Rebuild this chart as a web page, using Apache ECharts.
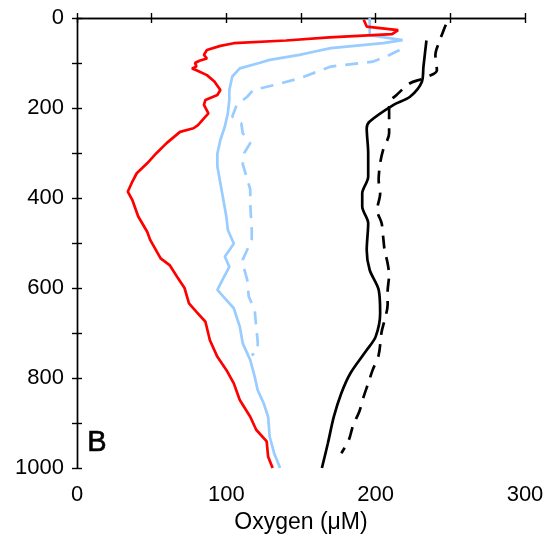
<!DOCTYPE html>
<html lang="en">
<head>
  <meta charset="UTF-8">
  <script src="https://cdn.jsdelivr.net/npm/echarts@6/dist/echarts.min.js"></script>
  <title>Oxygen profile</title>
  <style>
    html, body { margin: 0; padding: 0; background: #fff; }
    #main { width: 556px; height: 545px; }
  </style>
</head>
<body>
  <div id="main"></div>
<script>
  // depth (m) / oxygen (uM) pairs
  var redDepth = [4, 19, 27, 36, 43, 50, 56, 62, 71, 82, 90, 95, 100, 104, 108, 112, 116, 127, 141, 160, 171, 182, 193, 212, 223, 238, 245, 253, 278, 301, 323, 345, 364, 386, 404, 441, 475, 493, 534, 549, 575, 600, 634, 653, 675, 716, 753, 782, 812, 849, 886, 915, 941, 975, 1000];
  var redO2 = [192, 194, 215, 211, 169, 140, 105, 96, 87, 85, 87, 82, 79, 78, 80, 77, 80, 87, 92, 96, 94, 86, 85, 88, 85, 81, 78, 69, 60, 53, 47, 40, 37, 34, 37, 41, 47, 49, 56, 62, 67, 72, 75, 80, 86, 89, 94, 100, 105, 109, 116, 120, 127, 128, 131];

  var blueDepth = [0, 38, 49, 56, 67, 74, 82, 93, 100, 112, 130, 160, 182, 212, 241, 271, 301, 330, 367, 404, 441, 471, 501, 516, 530, 553, 578, 604, 619, 645, 686, 723, 760, 797, 827, 856, 886, 930, 967, 1000];
  var blueO2 = [196, 196, 218, 205, 170, 160, 149, 129, 122, 109, 104, 102, 102, 101, 99, 96, 94, 94, 96, 98, 100, 101, 105, 102, 99, 102, 98, 94, 98, 105, 109, 111, 116, 119, 121, 125, 128, 129, 132, 136];

  var blueDashDepth = [71, 86, 97, 108, 134, 149, 160, 175, 193, 219, 234, 256, 278, 300, 325, 347, 381, 414, 471, 493, 515, 537, 558, 582, 619, 649, 686, 719, 738, 750];
  var blueDashO2 = [216, 207, 198, 170, 149, 132, 118, 114, 107, 104, 110, 111, 116, 112, 111, 113, 116, 116, 117, 117, 114, 111, 112, 114, 115, 119, 120, 121, 121, 117];

  var blackDepth = [50, 108, 141, 175, 193, 230, 245, 301, 353, 390, 419, 456, 516, 560, 604, 656, 708, 738, 790, 834, 886, 945, 1000];
  var blackO2 = [234, 232, 231, 223, 212, 196, 194, 195, 195, 191, 191, 195, 194, 196, 202, 203, 200, 194, 183, 177, 172, 168, 164];

  var blackDashDepth = [15, 23, 49, 82, 116, 134, 145, 171, 190, 230, 256, 293, 323, 360, 390, 427, 456, 486, 516, 545, 571, 608, 638, 671, 697, 749, 782, 812, 841, 875, 904, 938, 967];
  var blackDashO2 = [247, 246, 243, 240, 241, 232, 223, 214, 209, 209, 209, 205, 203, 202, 203, 201, 204, 205, 206, 208, 209, 208, 208, 206, 204, 202, 198, 195, 192, 189, 185, 182, 177];

  function pairs(xs, ys) {
    return xs.map(function (v, i) { return [v, ys[i]]; });
  }

  var font = 'Liberation Sans, Arial, sans-serif';
  var axisLine = { show: true, lineStyle: { color: '#000', width: 1.4 } };
  var tick = { show: true, inside: false, length: 5, lineStyle: { color: '#000', width: 1.4 } };

  var chart = echarts.init(document.getElementById('main'));
  chart.setOption({
    animation: false,
    grid: { left: 77, top: 18, right: 31, bottom: 77 },
    xAxis: [
      {
        type: 'value', min: 0, max: 300, interval: 50, position: 'bottom',
        name: 'Oxygen (\u03bcM)', nameLocation: 'middle', nameGap: 43,
        nameTextStyle: { fontFamily: font, fontSize: 23, color: '#000' },
        axisLine: axisLine, axisTick: tick, splitLine: { show: false },
        axisLabel: {
          margin: 16, fontFamily: font, fontSize: 22, color: '#000',
          formatter: function (v) { return v % 100 === 0 ? v : ''; }
        }
      },
      {
        type: 'value', min: 0, max: 300, interval: 50, position: 'top',
        axisLine: axisLine, axisTick: tick, splitLine: { show: false },
        axisLabel: { show: false }
      }
    ],
    yAxis: [
      {
        type: 'value', min: 0, max: 1000, interval: 100, inverse: true, position: 'left',
        axisLine: axisLine, axisTick: tick, splitLine: { show: false },
        axisLabel: {
          margin: 13, fontFamily: font, fontSize: 22, color: '#000',
          formatter: function (v) { return v % 200 === 0 ? v : ''; }
        }
      },
      {
        type: 'value', min: 0, max: 1000, interval: 100, inverse: true, position: 'right',
        axisLine: axisLine, axisTick: tick, splitLine: { show: false },
        axisLabel: { show: false }
      }
    ],
    graphic: [
      {
        type: 'text', left: 87, top: 428,
        style: { text: 'B', font: '29px ' + font, fill: '#000', stroke: '#000', lineWidth: 0.6 }
      }
    ],
    series: [
      {
        type: 'line', symbol: 'none', data: pairs(blackDashO2, blackDashDepth), smooth: 0.3,
        lineStyle: { color: '#000', width: 2.7, type: [13, 9] }
      },
      {
        type: 'line', symbol: 'none', data: pairs(blackO2, blackDepth), smooth: 0.3,
        lineStyle: { color: '#000', width: 2.7 }
      },
      {
        type: 'line', symbol: 'none', data: pairs(blueDashO2, blueDashDepth),
        lineStyle: { color: '#99ccff', width: 2.7, type: [13, 9] }
      },
      {
        type: 'line', symbol: 'none', data: pairs(blueO2, blueDepth),
        lineStyle: { color: '#99ccff', width: 2.7 }
      },
      {
        type: 'line', symbol: 'none', data: pairs(redO2, redDepth),
        lineStyle: { color: '#ff0000', width: 2.7 }
      }
    ]
  });
</script>
</body>
</html>
